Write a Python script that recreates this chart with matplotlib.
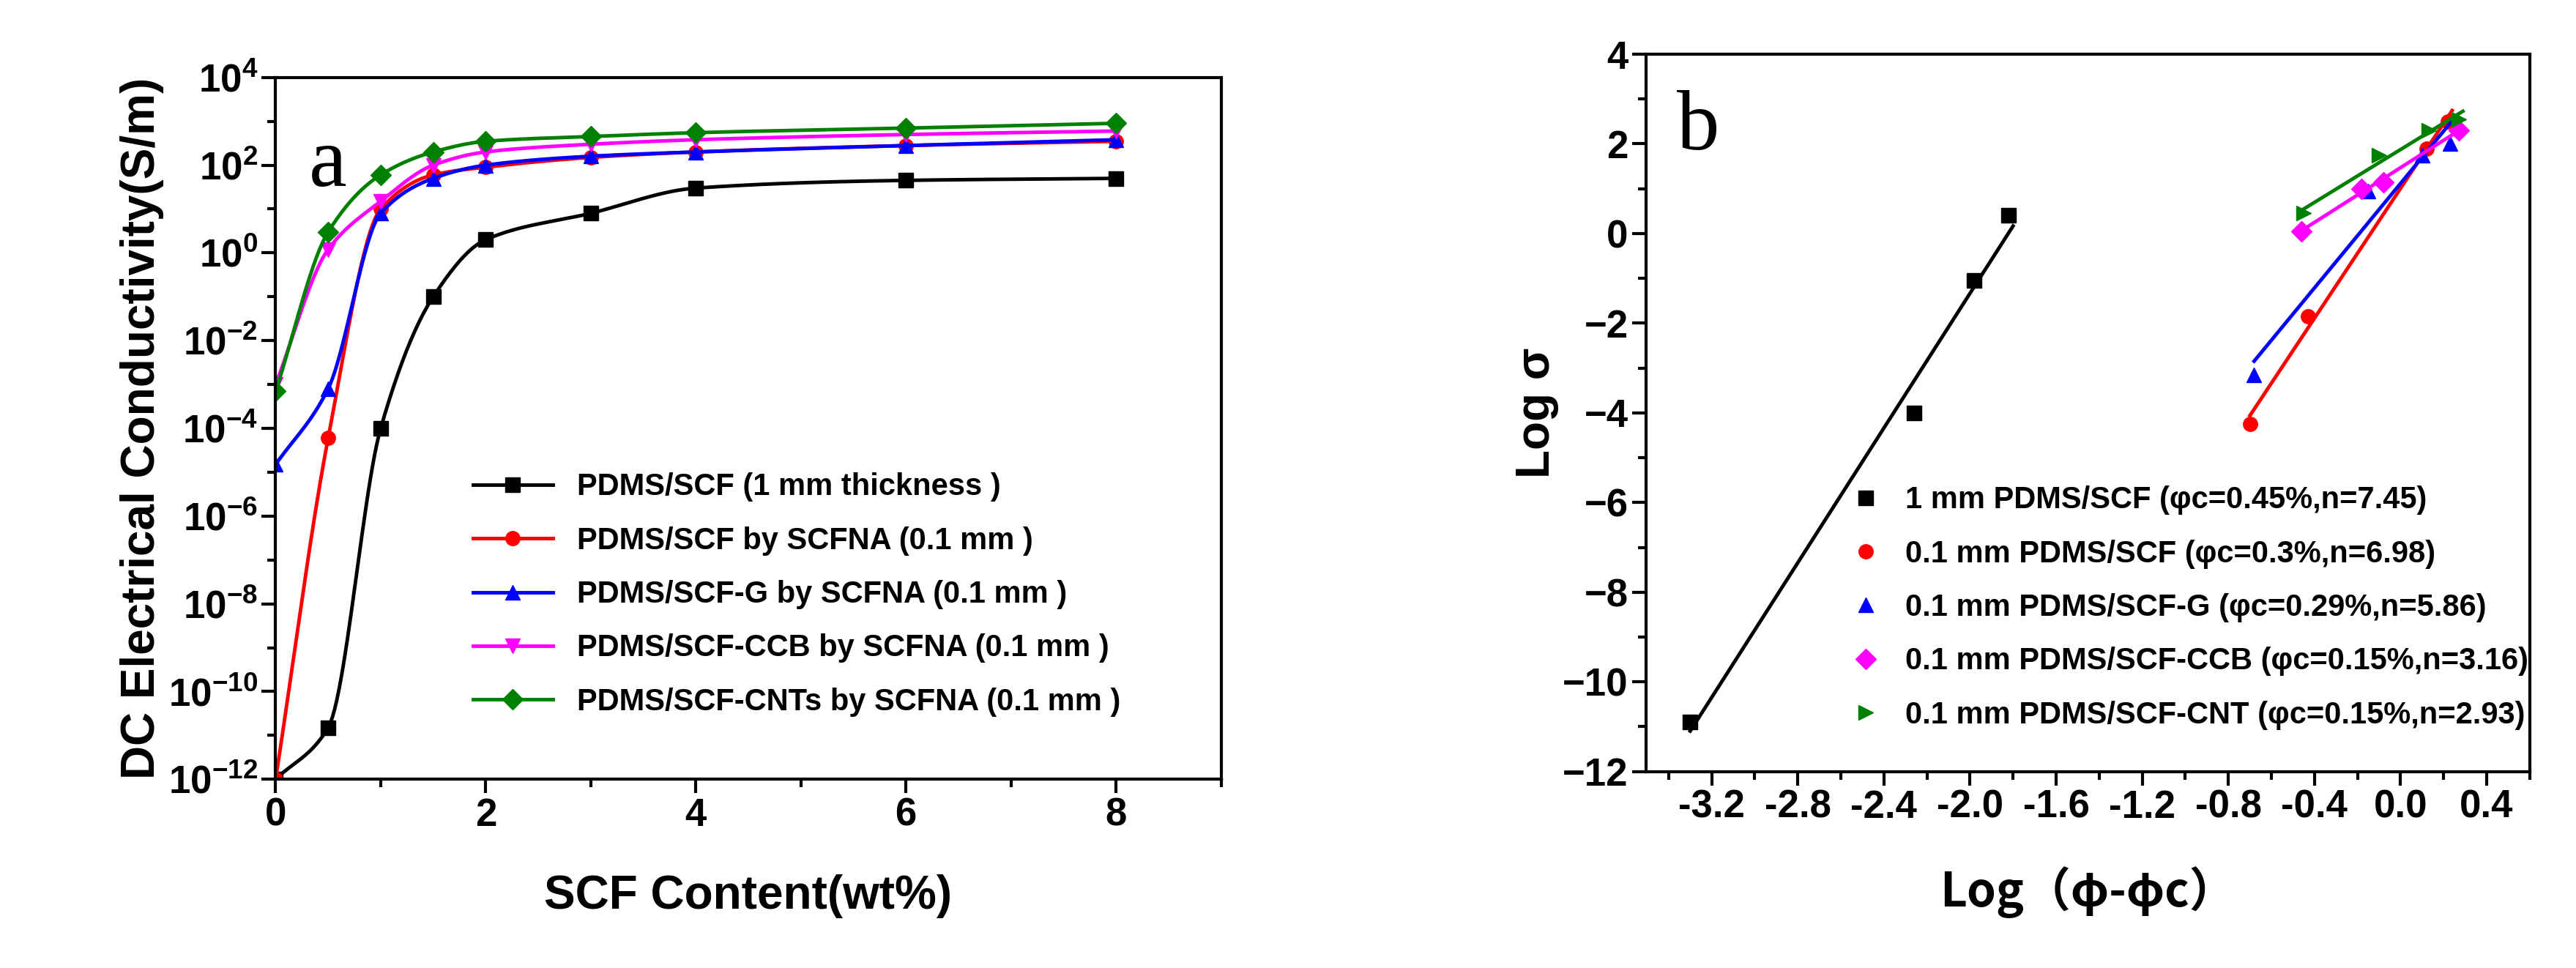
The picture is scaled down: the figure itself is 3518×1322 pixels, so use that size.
import matplotlib
matplotlib.use("Agg")
import matplotlib.pyplot as plt
import numpy as np
from matplotlib.ticker import MultipleLocator, FixedLocator, NullFormatter

plt.rcParams['font.family'] = ['Liberation Sans', 'DejaVu Sans']
plt.rcParams['font.weight'] = 'bold'

# panel a data
content = [0, 0.5, 1, 1.5, 2, 3, 4, 6, 8]
sig_scf1 = [1e-12, 1.5e-11, 1e-4, 0.1, 2, 8, 30, 45, 50]
sig_scf = [1e-12, 6e-5, 10, 60, 90, 150, 200, 280, 350]
sig_g = [1.5e-5, 8e-4, 8, 50, 100, 160, 200, 280, 380]
sig_ccb = [1e-3, 1.2, 15, 100, 200, 300, 380, 500, 600]
sig_cnt = [7e-4, 3, 60, 200, 350, 450, 550, 700, 900]
labels_a = ['PDMS/SCF (1 mm thickness )', 'PDMS/SCF by SCFNA (0.1 mm )',
            'PDMS/SCF-G by SCFNA (0.1 mm )', 'PDMS/SCF-CCB by SCFNA (0.1 mm )',
            'PDMS/SCF-CNTs by SCFNA (0.1 mm )']

# panel b data
bx_scf1 = [-3.3, -2.26, -1.98, -1.82]
by_scf1 = [-10.9, -4.0, -1.05, 0.4]
bx_scf = [-0.7, -0.43, 0.12, 0.22]
by_scf = [-4.25, -1.85, 1.9, 2.5]
bx_g = [-0.68, -0.15, 0.1, 0.23]
by_g = [-3.15, 0.95, 1.75, 2.0]
bx_ccb = [-0.46, -0.18, -0.08, 0.27]
by_ccb = [0.05, 1.0, 1.15, 2.3]
bx_cnt = [-0.45, -0.1, 0.13, 0.27]
by_cnt = [0.45, 1.75, 2.3, 2.55]
labels_b = ['1 mm PDMS/SCF (φc=0.45%,n=7.45)', '0.1 mm PDMS/SCF (φc=0.3%,n=6.98)',
            '0.1 mm PDMS/SCF-G (φc=0.29%,n=5.86)', '0.1 mm PDMS/SCF-CCB (φc=0.15%,n=3.16)',
            '0.1 mm PDMS/SCF-CNT (φc=0.15%,n=2.93)']
xticks_b = [-3.2, -2.8, -2.4, -2.0, -1.6, -1.2, -0.8, -0.4, 0.0, 0.4]

colors = ['black', 'red', 'blue', 'magenta', 'green']
markers_a = ['s', 'o', '^', 'v', 'D']
markers_b = ['s', 'o', '^', 'D', '>']


def pchip(x, y, xs):
    # monotone cubic through log10 values, for the smooth guide line
    x = np.asarray(x, float)
    y = np.asarray(y, float)
    h = np.diff(x)
    d = np.diff(y) / h
    m = np.zeros_like(y)
    for k in range(1, len(x) - 1):
        if d[k - 1] * d[k] > 0:
            w1 = 2 * h[k] + h[k - 1]
            w2 = h[k] + 2 * h[k - 1]
            m[k] = (w1 + w2) / (w1 / d[k - 1] + w2 / d[k])
    m[0] = d[0]
    m[-1] = d[-1]
    idx = np.clip(np.searchsorted(x, xs) - 1, 0, len(x) - 2)
    t = (xs - x[idx]) / h[idx]
    h00 = 2 * t**3 - 3 * t**2 + 1
    h10 = t**3 - 2 * t**2 + t
    h01 = -2 * t**3 + 3 * t**2
    h11 = t**3 - t**2
    return h00 * y[idx] + h10 * h[idx] * m[idx] + h01 * y[idx + 1] + h11 * h[idx] * m[idx + 1]


fig = plt.figure(figsize=(35.18, 13.22), dpi=100)
ax1 = fig.add_axes([0.107, 0.195, 0.367, 0.725])
ax2 = fig.add_axes([0.639, 0.203, 0.343, 0.741])

xs = np.linspace(0, 8, 400)
for ys, c, m, lab in zip([sig_scf1, sig_scf, sig_g, sig_ccb, sig_cnt], colors, markers_a, labels_a):
    ax1.plot(xs, 10 ** pchip(content, np.log10(ys), xs), color=c, lw=3.5)
    ax1.plot(content, ys, color=c, marker=m, ms=14, ls='none')
    ax1.plot([], [], color=c, marker=m, ms=14, lw=3.5, label=lab)
ax1.set_yscale('log')
ax1.set_xlim(0, 9)
ax1.set_ylim(1e-12, 1e4)
ax1.yaxis.set_major_locator(FixedLocator([10.0**k for k in range(-12, 5, 2)]))
ax1.yaxis.set_minor_locator(FixedLocator([10.0**k for k in range(-11, 4, 2)]))
ax1.yaxis.set_minor_formatter(NullFormatter())
ax1.xaxis.set_minor_locator(MultipleLocator(1))
ax1.set_xticks([0, 2, 4, 6, 8])
ax1.set_xlabel('SCF Content(wt%)', fontsize=46, fontweight='bold', labelpad=40)
ax1.set_ylabel('DC Electrical Conductivity(S/m)', fontsize=46, fontweight='bold')
ax1.text(0.035, 0.93, 'a', transform=ax1.transAxes, fontsize=84, family='Liberation Serif',
         fontweight='normal', va='top')
ax1.legend(loc='lower left', bbox_to_anchor=(0.18, 0.05), frameon=False, fontsize=30,
           handlelength=2.6, labelspacing=0.8)

for bx, by, c, m, lab in zip([bx_scf1, bx_scf, bx_g, bx_ccb, bx_cnt],
                             [by_scf1, by_scf, by_g, by_ccb, by_cnt], colors, markers_b, labels_b):
    p = np.polyfit(bx, by, 1)
    xx = np.array([min(bx), max(bx) + 0.02])
    ax2.plot(xx, np.polyval(p, xx), color=c, lw=3.5)
    ax2.plot(bx, by, color=c, marker=m, ms=14, ls='none', label=lab)
ax2.set_xlim(-3.505, 0.6)
ax2.set_ylim(-12, 4)
ax2.xaxis.set_minor_locator(MultipleLocator(0.2))
ax2.set_xticks(xticks_b)
ax2.set_xticklabels(['%.1f' % abs(v) if v == 0 else '%.1f' % v for v in xticks_b])
ax2.yaxis.set_major_locator(MultipleLocator(2))
ax2.yaxis.set_minor_locator(MultipleLocator(1))
ax2.set_xlabel('Log（φ-φc）', fontsize=46, fontweight='bold', labelpad=40,
               family=['Noto Sans CJK SC', 'DejaVu Sans'])
ax2.set_ylabel('Log σ', fontsize=46, fontweight='bold')
ax2.text(0.035, 0.95, 'b', transform=ax2.transAxes, fontsize=84, family='Liberation Serif',
         fontweight='normal', va='top')
ax2.legend(loc='lower left', bbox_to_anchor=(0.2, 0.02), frameon=False, fontsize=30,
           handlelength=1.0, labelspacing=0.8)

for ax in (ax1, ax2):
    for s in ax.spines.values():
        s.set_linewidth(3)
    ax.tick_params(which='major', direction='out', length=14, width=3, labelsize=38)
    ax.tick_params(which='minor', direction='out', length=8, width=3)
    for t in ax.get_xticklabels() + ax.get_yticklabels():
        t.set_fontweight('bold')

fig.savefig('out.png', dpi=100)
